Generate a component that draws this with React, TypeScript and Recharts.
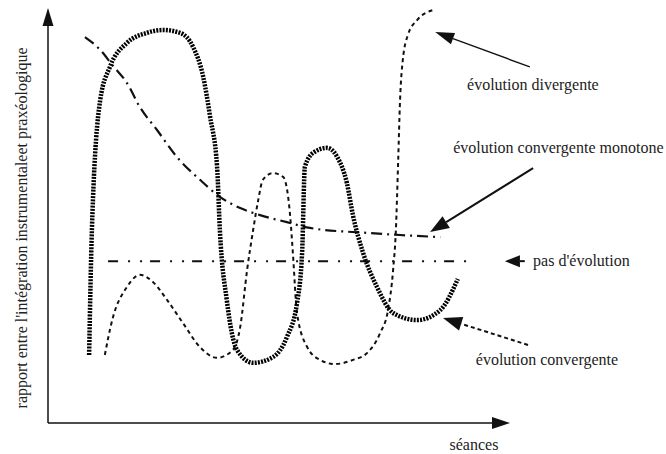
import * as React from "react";
import { LineChart, Line, XAxis, YAxis, ReferenceLine, ReferenceDot } from "recharts";

// schematic curves (x: séances 0-100, y: rapport 0-100)
const convX = [8.9, 9.5, 11.3, 13.4, 17.1, 21.4, 24.9, 28.6, 31.4, 33.6, 35.1, 36.6, 37.2, 38.7, 40.9, 44.4, 48.7, 51.7, 53.9, 55.0, 55.6, 57.4, 60.4, 62.6, 64.7, 66.0, 68.2, 71.2, 74.7, 79.9, 84.9, 88.7];
const convY = [16.4, 46.5, 77.8, 85.8, 91.6, 94.0, 94.7, 94.0, 90.6, 83.4, 73.7, 61.7, 46.5, 29.6, 17.6, 14.5, 15.9, 20.7, 28.9, 41.0, 61.7, 65.1, 66.3, 64.1, 57.8, 50.1, 41.0, 32.8, 26.5, 24.8, 27.2, 34.7];

const divX = [12.3, 13.9, 17.1, 19.9, 22.7, 25.8, 29.2, 32.9, 36.6, 40.0, 41.6, 43.1, 44.4, 45.5, 46.5, 48.7, 50.9, 52.4, 53.0, 53.9, 56.1, 58.9, 62.1, 66.0, 69.1, 71.9, 73.6, 74.7, 75.3, 75.8, 76.2, 76.8, 77.9, 79.9, 83.3];
const divY = [16.4, 24.8, 32.8, 35.7, 34.0, 29.6, 24.1, 18.3, 15.7, 17.6, 23.1, 36.9, 46.5, 53.7, 58.6, 60.2, 59.3, 50.1, 41.0, 26.5, 18.3, 15.2, 14.2, 15.2, 16.9, 21.7, 27.2, 36.9, 46.5, 63.4, 77.8, 87.5, 93.5, 97.1, 99.5];

const monoX = [8.0, 11.3, 13.9, 17.1, 19.9, 23.6, 27.9, 32.9, 37.2, 41.6, 45.9, 51.7, 56.7, 69.1, 76.2, 84.9];
const monoY = [93.0, 89.9, 86.3, 81.9, 76.1, 70.6, 64.1, 58.6, 54.5, 51.8, 50.1, 48.4, 47.0, 45.8, 45.3, 44.8];

const flatX = [13.0, 91.8];
const flatY = [39.0, 39.0];

const toPoints = (xs: number[], ys: number[]) => xs.map((x, i) => ({ x, y: ys[i] }));

const INK = "#111";
const FONT = "Liberation Serif";

function arrowShape(head: number, half: number, width: number, dash?: string) {
  return (p: any) => {
    const { x1, y1, x2, y2 } = p;
    const a = Math.atan2(y2 - y1, x2 - x1);
    const bx = x2 - head * Math.cos(a);
    const by = y2 - head * Math.sin(a);
    const nx = -Math.sin(a) * half;
    const ny = Math.cos(a) * half;
    return (
      <g>
        <line x1={x1} y1={y1} x2={bx} y2={by} stroke={INK} strokeWidth={width} strokeDasharray={dash} />
        <polygon points={`${x2},${y2} ${bx + nx},${by + ny} ${bx - nx},${by - ny}`} fill={INK} />
      </g>
    );
  };
}

function textShape(text: string, anchor: "start" | "middle" | "end", angle = 0) {
  return (p: any) => (
    <text
      x={p.cx}
      y={p.cy}
      dy={5}
      textAnchor={anchor}
      transform={angle ? `rotate(${angle} ${p.cx} ${p.cy})` : undefined}
      fontFamily={FONT}
      fontSize={16}
      fill="#222"
    >
      {text}
    </text>
  );
}

export default function App() {
  return (
    <div style={{ position: "absolute", left: 0, top: 0, background: "#fff", fontFamily: FONT }}>
      <LineChart width={666} height={454} margin={{ top: 8, right: 156, bottom: 31, left: 48 }}>
        <XAxis dataKey="x" type="number" domain={[0, 100]} hide />
        <YAxis dataKey="y" type="number" domain={[0, 100]} hide />

        {/* axes */}
        <ReferenceLine segment={[{ x: 0, y: 0 }, { x: 100, y: 0 }]} ifOverflow="visible" shape={arrowShape(18, 6, 1.5)} />
        <ReferenceLine segment={[{ x: 0, y: 0 }, { x: 0, y: 100 }]} ifOverflow="visible" shape={arrowShape(18, 5.5, 1.5)} />

        <Line data={toPoints(flatX, flatY)} dataKey="y" type="linear" stroke={INK} strokeWidth={2}
          strokeDasharray="10 10 2 10 2 8" dot={false} activeDot={false} isAnimationActive={false} />
        <Line data={toPoints(monoX, monoY)} dataKey="y" type="monotone" stroke={INK} strokeWidth={2.2}
          strokeDasharray="11 5 2 5" dot={false} activeDot={false} isAnimationActive={false} />
        <Line data={toPoints(divX, divY)} dataKey="y" type="monotone" stroke={INK} strokeWidth={2}
          strokeDasharray="4 3.5" dot={false} activeDot={false} isAnimationActive={false} />
        <Line data={toPoints(convX, convY)} dataKey="y" type="monotone" stroke="#000" strokeWidth={4.5}
          strokeDasharray="2 1.2" dot={false} activeDot={false} isAnimationActive={false} />

        {/* annotations */}
        <ReferenceLine segment={[{ x: 104.3, y: 85.8 }, { x: 83.8, y: 94.2 }]} ifOverflow="visible" shape={arrowShape(19, 6, 1.4)} />
        <ReferenceLine segment={[{ x: 105.0, y: 61.4 }, { x: 82.7, y: 46.0 }]} ifOverflow="visible" shape={arrowShape(19, 7, 2)} />
        <ReferenceLine segment={[{ x: 103.2, y: 39.0 }, { x: 98.9, y: 39.0 }]} ifOverflow="visible" shape={arrowShape(15, 6, 2)} />
        <ReferenceLine segment={[{ x: 103.9, y: 18.8 }, { x: 85.5, y: 25.3 }]} ifOverflow="visible" shape={arrowShape(19, 7, 2, "4 3")} />

        <ReferenceDot x={90.7} y={81.4} ifOverflow="visible" shape={textShape("évolution divergente", "start")} />
        <ReferenceDot x={87.7} y={66.3} ifOverflow="visible" shape={textShape("évolution convergente monotone", "start")} />
        <ReferenceDot x={105.0} y={39.0} ifOverflow="visible" shape={textShape("pas d'évolution", "start")} />
        <ReferenceDot x={92.6} y={15.2} ifOverflow="visible" shape={textShape("évolution convergente", "start")} />
        <ReferenceDot x={92.2} y={-5.3} ifOverflow="visible" shape={textShape("séances", "middle")} />
        <ReferenceDot x={-5.6} y={47.0} ifOverflow="visible"
          shape={textShape("rapport entre l'intégration instrumentaleet praxéologique", "middle", -90)} />
      </LineChart>
    </div>
  );
}
